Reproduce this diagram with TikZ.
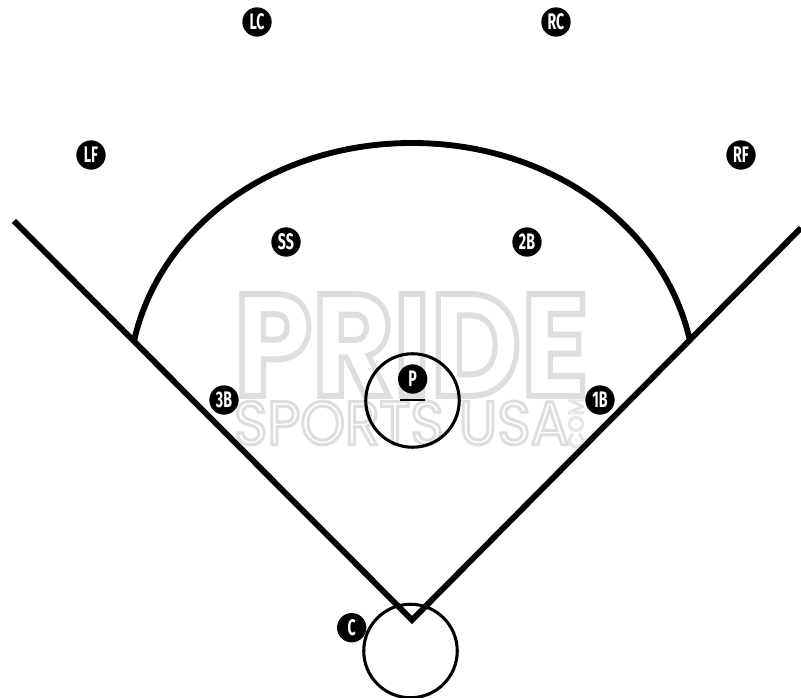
\documentclass[tikz,border=0pt]{standalone}
\usepackage{fontspec}
\setmainfont{Liberation Sans}
\newfontfamily\wmfont{Poppins}
\newfontfamily\posfont{Fira Sans}
\newcommand{\outlinetext}[2]{\special{pdf:code q 1 Tr 0.87 0.87 0.87 RG #1 w}#2\special{pdf:code Q}}
\newcommand{\tall}[1]{\scalebox{0.85}[1.35]{#1}}
\tikzset{
  px/.style={x=0.75pt,y=-0.75pt},
  fieldline/.style={line width=4.4pt,black,line cap=butt,line join=miter},
  ring/.style={draw=black,line width=2.3pt,circle,minimum size=#1*0.75pt,inner sep=0pt},
  player/.style={circle,fill=black,text=white,minimum size=22pt,inner sep=0pt,font=\posfont\bfseries\fontsize{12.5}{12.5}\selectfont},
  moundbar/.style={line width=1.9pt,black},
}
\begin{document}
\begin{tikzpicture}[px]
\useasboundingbox (0,0) rectangle (801,698);
\fill[white] (0,0) rectangle (801,698);
% watermark
\node[anchor=center,inner sep=0pt,font=\wmfont\bfseries] (wmA) at (411.5,345) {\outlinetext{1.25}{\scalebox{3.12}[3.62]{\fontsize{30}{30}\selectfont PRIDE}}};
\node[anchor=center,inner sep=0pt,font=\wmfont] (wmB) at (401.5,423) {\outlinetext{1.3}{\scalebox{1.64}[1.77]{\fontsize{26}{26}\selectfont SPORTS USA}}};
\node[anchor=center,inner sep=0pt,font=\wmfont,rotate=90] (wmC) at (576,423) {\outlinetext{0.8}{\fontsize{16}{16}\selectfont COM}};
% rings
\node[ring=93.5] (home) at (410.5,651) {};
\node[ring=93.5] (mound) at (412.5,400.5) {};
% field
\coordinate (lfoul) at (14,221);
\coordinate (rfoul) at (801,228);
\coordinate (plate) at (412,620);
\coordinate (arcL) at (134,341);
\coordinate (arcR) at (690,341);
\draw[fieldline] (lfoul) -- (plate) -- (rfoul);
\draw[fieldline] (arcL) .. controls (160,225) and (275,143) .. (412,143) .. controls (549,143) and (664,225) .. (arcR);
\coordinate (barL) at (400,400);
\coordinate (barR) at (424.5,400);
\draw[moundbar] (barL) -- (barR);
% positions
\foreach \nm/\lb/\x/\y in {lc/LC/257/22, rc/RC/556/22, lf/LF/91/155, rf/RF/741/155, ss/SS/286/242, sb/2B/527/242, tb/3B/224/400, fb/1B/600/400, p/P/412.7/379, c/C/351.7/627.7}
  \node[player] (\nm) at (\x,\y) {\tall{\lb}};
\end{tikzpicture}
\end{document}
